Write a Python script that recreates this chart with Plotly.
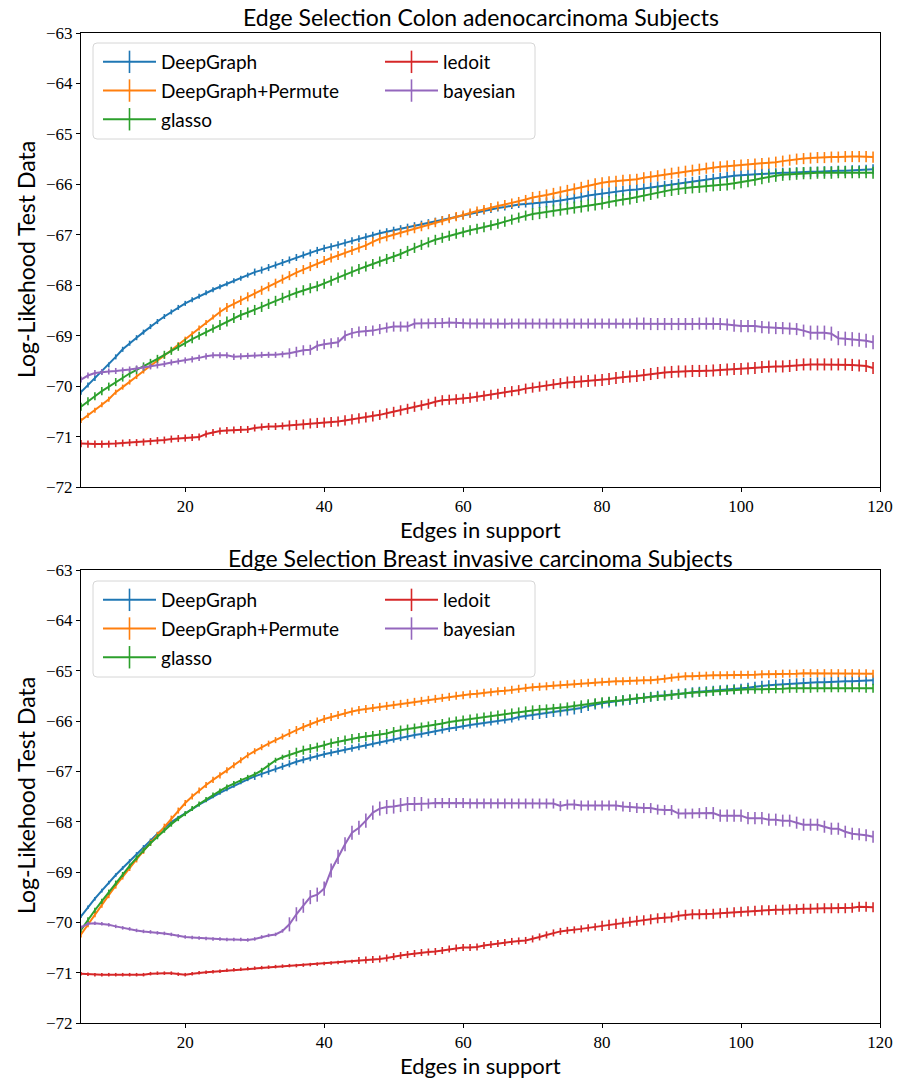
import plotly.graph_objects as go

# ---------------- data ----------------
edges = list(range(5, 120))

series_names = ["DeepGraph", "DeepGraph+Permute", "glasso", "ledoit", "bayesian"]
colors = ["#1f77b4", "#ff7f0e", "#2ca02c", "#d62728", "#9467bd"]
x_ticks = [20, 40, 60, 80, 100, 120]
y_ticks = [-72, -71, -70, -69, -68, -67, -66, -65, -64, -63]
titles = ["Edge Selection Colon adenocarcinoma Subjects",
          "Edge Selection Breast invasive carcinoma Subjects"]

colon_deepgraph = [
    -70.12, -69.98, -69.85, -69.72, -69.58, -69.42, -69.27, -69.15, -69.04, -68.93,
    -68.82, -68.72, -68.62, -68.53, -68.44, -68.36, -68.29, -68.22, -68.15, -68.09,
    -68.03, -67.97, -67.91, -67.86, -67.80, -67.74, -67.70, -67.65, -67.60, -67.55,
    -67.50, -67.45, -67.40, -67.36, -67.31, -67.27, -67.24, -67.20, -67.16, -67.12,
    -67.08, -67.04, -67.01, -66.97, -66.94, -66.91, -66.88, -66.85, -66.82, -66.79,
    -66.76, -66.73, -66.70, -66.67, -66.64, -66.62, -66.59, -66.56, -66.53, -66.50,
    -66.47, -66.45, -66.42, -66.40, -66.39, -66.38, -66.37, -66.36, -66.34, -66.32,
    -66.30, -66.28, -66.25, -66.22, -66.20, -66.18, -66.16, -66.14, -66.13, -66.11,
    -66.10, -66.08, -66.06, -66.04, -66.03, -66.01, -65.99, -65.97, -65.95, -65.93,
    -65.91, -65.89, -65.87, -65.85, -65.83, -65.82, -65.81, -65.80, -65.79, -65.78,
    -65.78, -65.77, -65.77, -65.76, -65.76, -65.75, -65.75, -65.74, -65.74, -65.73,
    -65.73, -65.72, -65.72, -65.71, -65.70]
colon_permute = [
    -70.68, -70.58, -70.48, -70.37, -70.26, -70.12, -70.02, -69.92, -69.81, -69.70,
    -69.60, -69.50, -69.40, -69.29, -69.18, -69.07, -68.96, -68.85, -68.74, -68.63,
    -68.53, -68.44, -68.37, -68.30, -68.23, -68.17, -68.10, -68.03, -67.96, -67.88,
    -67.81, -67.75, -67.69, -67.63, -67.57, -67.51, -67.46, -67.41, -67.36, -67.31,
    -67.26, -67.21, -67.14, -67.08, -67.04, -67.00, -66.96, -66.92, -66.88, -66.84,
    -66.80, -66.76, -66.72, -66.68, -66.64, -66.61, -66.57, -66.53, -66.50, -66.46,
    -66.43, -66.40, -66.37, -66.34, -66.30, -66.26, -66.24, -66.21, -66.18, -66.15,
    -66.12, -66.09, -66.06, -66.02, -65.99, -65.97, -65.95, -65.94, -65.92, -65.91,
    -65.90, -65.87, -65.85, -65.83, -65.80, -65.78, -65.76, -65.74, -65.72, -65.70,
    -65.68, -65.66, -65.65, -65.64, -65.63, -65.62, -65.61, -65.60, -65.59, -65.58,
    -65.56, -65.54, -65.52, -65.50, -65.49, -65.48, -65.47, -65.47, -65.46, -65.46,
    -65.45, -65.45, -65.45, -65.45, -65.46]
colon_glasso = [
    -70.41, -70.30, -70.20, -70.10, -70.01, -69.92, -69.83, -69.75, -69.68, -69.61,
    -69.54, -69.46, -69.38, -69.30, -69.22, -69.14, -69.07, -69.00, -68.93, -68.86,
    -68.79, -68.72, -68.65, -68.59, -68.54, -68.49, -68.43, -68.37, -68.31, -68.25,
    -68.20, -68.15, -68.10, -68.06, -68.02, -67.97, -67.91, -67.85, -67.79, -67.73,
    -67.68, -67.63, -67.58, -67.53, -67.48, -67.44, -67.38, -67.32, -67.26, -67.20,
    -67.15, -67.10, -67.06, -67.02, -66.98, -66.95, -66.91, -66.88, -66.85, -66.81,
    -66.78, -66.74, -66.70, -66.66, -66.62, -66.59, -66.57, -66.55, -66.52, -66.50,
    -66.48, -66.46, -66.44, -66.42, -66.40, -66.38, -66.35, -66.32, -66.30, -66.28,
    -66.25, -66.22, -66.19, -66.16, -66.13, -66.11, -66.09, -66.07, -66.06, -66.05,
    -66.04, -66.02, -66.01, -66.00, -65.98, -65.96, -65.94, -65.91, -65.88, -65.85,
    -65.83, -65.81, -65.80, -65.79, -65.78, -65.78, -65.77, -65.77, -65.77, -65.76,
    -65.76, -65.76, -65.76, -65.76, -65.77]
colon_ledoit = [
    -71.14, -71.15, -71.15, -71.15, -71.15, -71.14, -71.13, -71.12, -71.12, -71.11,
    -71.10, -71.08, -71.07, -71.05, -71.04, -71.03, -71.02, -71.01, -70.95, -70.92,
    -70.89, -70.88, -70.87, -70.86, -70.86, -70.83, -70.81, -70.80, -70.80, -70.79,
    -70.78, -70.77, -70.76, -70.74, -70.73, -70.72, -70.71, -70.70, -70.68, -70.66,
    -70.64, -70.62, -70.60, -70.57, -70.54, -70.51, -70.48, -70.45, -70.41, -70.38,
    -70.35, -70.31, -70.28, -70.27, -70.26, -70.25, -70.23, -70.21, -70.19, -70.17,
    -70.15, -70.12, -70.10, -70.08, -70.05, -70.03, -70.01, -69.99, -69.96, -69.94,
    -69.93, -69.92, -69.91, -69.90, -69.89, -69.88, -69.86, -69.84, -69.82, -69.81,
    -69.80, -69.78, -69.76, -69.74, -69.73, -69.72, -69.71, -69.71, -69.70, -69.70,
    -69.70, -69.69, -69.68, -69.67, -69.66, -69.66, -69.65, -69.64, -69.62, -69.61,
    -69.61, -69.61, -69.60, -69.58, -69.57, -69.57, -69.57, -69.57, -69.57, -69.57,
    -69.57, -69.58, -69.59, -69.60, -69.64]
colon_bayesian = [
    -69.87, -69.79, -69.74, -69.72, -69.71, -69.70, -69.69, -69.67, -69.65, -69.63,
    -69.61, -69.59, -69.56, -69.53, -69.51, -69.49, -69.47, -69.44, -69.41, -69.39,
    -69.39, -69.39, -69.42, -69.41, -69.40, -69.39, -69.38, -69.38, -69.38, -69.37,
    -69.35, -69.32, -69.29, -69.28, -69.20, -69.17, -69.15, -69.13, -69.00, -68.95,
    -68.92, -68.91, -68.90, -68.87, -68.84, -68.82, -68.82, -68.82, -68.76, -68.76,
    -68.76, -68.75, -68.75, -68.74, -68.75, -68.76, -68.76, -68.76, -68.76, -68.76,
    -68.76, -68.76, -68.76, -68.76, -68.76, -68.76, -68.76, -68.76, -68.76, -68.76,
    -68.76, -68.76, -68.76, -68.76, -68.76, -68.76, -68.76, -68.76, -68.76, -68.76,
    -68.76, -68.76, -68.77, -68.77, -68.77, -68.77, -68.77, -68.77, -68.77, -68.76,
    -68.76, -68.76, -68.77, -68.78, -68.80, -68.81, -68.81, -68.81, -68.83, -68.84,
    -68.85, -68.85, -68.86, -68.87, -68.90, -68.94, -68.94, -68.94, -68.96, -69.05,
    -69.06, -69.07, -69.08, -69.10, -69.13]

breast_deepgraph = [
    -69.88, -69.70, -69.53, -69.37, -69.21, -69.06, -68.92, -68.78, -68.64, -68.50,
    -68.37, -68.24, -68.12, -68.01, -67.92, -67.84, -67.75, -67.66, -67.58, -67.50,
    -67.43, -67.36, -67.29, -67.22, -67.16, -67.10, -67.05, -67.00, -66.95, -66.90,
    -66.85, -66.81, -66.77, -66.73, -66.70, -66.66, -66.63, -66.60, -66.57, -66.54,
    -66.51, -66.48, -66.45, -66.42, -66.39, -66.36, -66.33, -66.31, -66.28, -66.26,
    -66.23, -66.21, -66.18, -66.15, -66.13, -66.10, -66.08, -66.06, -66.04, -66.02,
    -66.00, -65.98, -65.96, -65.92, -65.90, -65.88, -65.86, -65.84, -65.82, -65.81,
    -65.79, -65.77, -65.74, -65.70, -65.67, -65.65, -65.63, -65.61, -65.59, -65.58,
    -65.56, -65.54, -65.52, -65.50, -65.49, -65.48, -65.46, -65.45, -65.43, -65.42,
    -65.41, -65.40, -65.39, -65.38, -65.37, -65.36, -65.34, -65.32, -65.30, -65.29,
    -65.28, -65.27, -65.26, -65.25, -65.24, -65.24, -65.23, -65.23, -65.22, -65.22,
    -65.21, -65.21, -65.20, -65.20, -65.19]
breast_permute = [
    -70.24, -70.04, -69.84, -69.65, -69.46, -69.27, -69.09, -68.92, -68.75, -68.58,
    -68.42, -68.26, -68.10, -67.94, -67.78, -67.63, -67.50, -67.38, -67.27, -67.17,
    -67.08, -66.98, -66.88, -66.78, -66.68, -66.60, -66.52, -66.45, -66.38, -66.31,
    -66.24, -66.18, -66.12, -66.06, -66.01, -65.96, -65.92, -65.88, -65.84, -65.81,
    -65.78, -65.76, -65.74, -65.72, -65.70, -65.68, -65.66, -65.64, -65.62, -65.60,
    -65.58, -65.56, -65.54, -65.52, -65.50, -65.49, -65.47, -65.46, -65.44, -65.43,
    -65.41, -65.40, -65.38, -65.36, -65.34, -65.33, -65.32, -65.31, -65.29, -65.28,
    -65.27, -65.26, -65.25, -65.24, -65.23, -65.22, -65.22, -65.21, -65.21, -65.20,
    -65.20, -65.19, -65.19, -65.18, -65.16, -65.14, -65.12, -65.11, -65.11, -65.10,
    -65.10, -65.09, -65.09, -65.09, -65.08, -65.08, -65.08, -65.08, -65.07, -65.07,
    -65.07, -65.06, -65.06, -65.06, -65.05, -65.05, -65.05, -65.05, -65.05, -65.05,
    -65.05, -65.05, -65.05, -65.05, -65.06]
breast_glasso = [
    -70.15, -69.95, -69.76, -69.58, -69.40, -69.22, -69.05, -68.88, -68.72, -68.57,
    -68.43, -68.30, -68.17, -68.05, -67.94, -67.84, -67.74, -67.65, -67.56, -67.47,
    -67.39, -67.31, -67.24, -67.18, -67.12, -67.06, -66.98, -66.88, -66.78, -66.72,
    -66.67, -66.62, -66.58, -66.55, -66.52, -66.48, -66.44, -66.41, -66.38, -66.35,
    -66.33, -66.31, -66.29, -66.27, -66.25, -66.21, -66.18, -66.16, -66.14, -66.12,
    -66.10, -66.07, -66.05, -66.02, -66.00, -65.98, -65.96, -65.94, -65.92, -65.90,
    -65.88, -65.86, -65.84, -65.82, -65.80, -65.78, -65.77, -65.76, -65.75, -65.74,
    -65.72, -65.70, -65.68, -65.66, -65.64, -65.62, -65.61, -65.60, -65.58, -65.56,
    -65.55, -65.54, -65.52, -65.51, -65.50, -65.48, -65.47, -65.45, -65.44, -65.43,
    -65.42, -65.41, -65.40, -65.39, -65.38, -65.38, -65.37, -65.37, -65.37, -65.36,
    -65.36, -65.36, -65.35, -65.35, -65.35, -65.35, -65.34, -65.34, -65.34, -65.34,
    -65.34, -65.34, -65.34, -65.35, -65.35]
breast_ledoit = [
    -71.02, -71.03, -71.04, -71.04, -71.04, -71.04, -71.04, -71.04, -71.04, -71.04,
    -71.02, -71.01, -71.01, -71.01, -71.03, -71.04, -71.02, -71.00, -70.99, -70.98,
    -70.97, -70.95, -70.94, -70.93, -70.92, -70.91, -70.90, -70.89, -70.88, -70.87,
    -70.86, -70.86, -70.85, -70.84, -70.83, -70.82, -70.81, -70.80, -70.79, -70.78,
    -70.76, -70.75, -70.74, -70.73, -70.71, -70.68, -70.66, -70.64, -70.62, -70.60,
    -70.59, -70.58, -70.56, -70.53, -70.51, -70.50, -70.50, -70.49, -70.46, -70.44,
    -70.42, -70.40, -70.38, -70.37, -70.36, -70.33, -70.29, -70.25, -70.21, -70.18,
    -70.16, -70.15, -70.13, -70.11, -70.09, -70.07, -70.05, -70.03, -70.01, -69.99,
    -69.97, -69.96, -69.94, -69.92, -69.91, -69.90, -69.87, -69.85, -69.84, -69.84,
    -69.84, -69.83, -69.82, -69.81, -69.80, -69.79, -69.78, -69.77, -69.76, -69.76,
    -69.75, -69.75, -69.74, -69.74, -69.73, -69.73, -69.72, -69.72, -69.72, -69.72,
    -69.72, -69.71, -69.69, -69.69, -69.70]
breast_bayesian = [
    -70.10, -70.03, -70.02, -70.03, -70.05, -70.08, -70.11, -70.13, -70.16, -70.18,
    -70.19, -70.21, -70.22, -70.24, -70.27, -70.29, -70.30, -70.31, -70.32, -70.33,
    -70.33, -70.34, -70.34, -70.34, -70.35, -70.33, -70.29, -70.26, -70.24, -70.17,
    -70.04, -69.84, -69.67, -69.50, -69.45, -69.33, -68.97, -68.70, -68.45, -68.22,
    -68.12, -67.98, -67.82, -67.74, -67.71, -67.70, -67.67, -67.65, -67.65, -67.65,
    -67.64, -67.63, -67.63, -67.63, -67.63, -67.63, -67.64, -67.64, -67.64, -67.64,
    -67.64, -67.64, -67.64, -67.64, -67.64, -67.64, -67.64, -67.64, -67.64, -67.69,
    -67.66, -67.66, -67.68, -67.68, -67.68, -67.68, -67.68, -67.68, -67.70, -67.71,
    -67.73, -67.73, -67.73, -67.76, -67.77, -67.77, -67.84, -67.84, -67.84, -67.83,
    -67.83, -67.83, -67.88, -67.88, -67.88, -67.88, -67.93, -67.93, -67.93, -67.96,
    -67.96, -67.98, -67.98, -68.02, -68.06, -68.06, -68.06, -68.10, -68.14, -68.14,
    -68.20, -68.24, -68.25, -68.27, -68.30]

# error bar half-lengths (read piecewise from the picture)
colon_err = [
    [0.05] * 25 + [0.07] * 40 + [0.10] * 50,
    [0.05] * 20 + [0.09] * 45 + [0.11] * 50,
    [0.08] * 20 + [0.10] * 45 + [0.12] * 50,
    [0.07] * 30 + [0.10] * 40 + [0.12] * 45,
    [0.06] * 30 + [0.10] * 50 + [0.12] * 25 + [0.14] * 10,
]
breast_err = [
    [0.035] * 25 + [0.07] * 40 + [0.10] * 50,
    [0.06] * 30 + [0.08] * 85,
    [0.05] * 30 + [0.09] * 85,
    [0.035] * 40 + [0.07] * 35 + [0.10] * 40,
    [0.035] * 30 + [0.14] * 20 + [0.10] * 40 + [0.12] * 25,
]

colon = [colon_deepgraph, colon_permute, colon_glasso, colon_ledoit, colon_bayesian]
breast = [breast_deepgraph, breast_permute, breast_glasso, breast_ledoit, breast_bayesian]

# ---------------- layout helpers (pixel -> paper) ----------------
W, H = 898, 1082
L, R, T, B = 81, 18, 33, 59
PW, PH = W - L - R, H - T - B


def px(p):
    return (p - L) / PW


def py(p):
    return (H - B - p) / PH


SANS = "Lato, 'Open Sans', sans-serif"
SERIF = "'Liberation Serif', 'DejaVu Serif', serif"

fig = go.Figure()

panels = [(colon, colon_err, "x", "y", ("legend", "legend2"), "c"),
          (breast, breast_err, "x2", "y2", ("legend3", "legend4"), "b")]

for data, errs, xa, ya, legs, tag in panels:
    for i, name in enumerate(series_names):
        fig.add_trace(go.Scatter(
            x=edges, y=data[i], mode="lines", name=name,
            line=dict(color=colors[i], width=2),
            error_y=dict(type="data", array=errs[i], visible=True,
                         color=colors[i], thickness=1.6, width=0),
            xaxis=xa, yaxis=ya, showlegend=False))
    # legend entries (line with a vertical error-bar tick)
    for i, name in enumerate(series_names):
        fig.add_trace(go.Scatter(
            x=[None], y=[None], mode="lines+markers", name=name,
            line=dict(color=colors[i], width=2),
            marker=dict(symbol="line-ns", size=22,
                        line=dict(color=colors[i], width=1.6)),
            xaxis=xa, yaxis=ya, showlegend=True,
            legendgroup=f"{tag}{i}",
            legend=legs[0] if i < 3 else legs[1]))

axis_common = dict(
    showgrid=False, zeroline=False, showline=True, linecolor="black",
    linewidth=1, mirror=True, ticks="outside", ticklen=4, tickwidth=1,
    tickcolor="black", automargin=False,
    tickfont=dict(family=SERIF, size=17, color="black"))

top_dom = [py(487), py(33)]
bot_dom = [py(1023), py(570)]

fig.update_layout(
    template="none",
    width=W, height=H,
    margin=dict(l=L, r=R, t=T, b=B, autoexpand=False),
    plot_bgcolor="white", paper_bgcolor="white",
    xaxis=dict(domain=[0, 1], anchor="y", range=[5, 120], tickvals=x_ticks, **axis_common),
    yaxis=dict(domain=top_dom, anchor="x", range=[-72, -63], tickvals=y_ticks, **axis_common),
    xaxis2=dict(domain=[0, 1], anchor="y2", range=[5, 120], tickvals=x_ticks, **axis_common),
    yaxis2=dict(domain=bot_dom, anchor="x2", range=[-72, -63], tickvals=y_ticks, **axis_common),
)

legend_style = dict(bgcolor="rgba(0,0,0,0)", borderwidth=0,
                    font=dict(family=SANS, size=19, color="black"),
                    xanchor="left", yanchor="top", itemwidth=53,
                    traceorder="grouped", tracegroupgap=1)
fig.update_layout(
    legend=dict(x=px(98), y=py(43), **legend_style),
    legend2=dict(x=px(380), y=py(43), **legend_style),
    legend3=dict(x=px(98), y=py(581), **legend_style),
    legend4=dict(x=px(380), y=py(581), **legend_style),
)


# legend frames (rounded rectangles)
def rounded_rect(x0, y0, x1, y1, r=4):
    X = lambda p: px(p)
    Y = lambda p: py(p)
    return (f"M {X(x0 + r)},{Y(y0)} L {X(x1 - r)},{Y(y0)} Q {X(x1)},{Y(y0)} {X(x1)},{Y(y0 + r)} "
            f"L {X(x1)},{Y(y1 - r)} Q {X(x1)},{Y(y1)} {X(x1 - r)},{Y(y1)} "
            f"L {X(x0 + r)},{Y(y1)} Q {X(x0)},{Y(y1)} {X(x0)},{Y(y1 - r)} "
            f"L {X(x0)},{Y(y0 + r)} Q {X(x0)},{Y(y0)} {X(x0 + r)},{Y(y0)} Z")


for (y0, y1) in [(43, 139), (581, 677)]:
    fig.add_shape(type="path", xref="paper", yref="paper",
                  path=rounded_rect(93, y0, 535, y1),
                  fillcolor="rgba(255,255,255,0.8)",
                  line=dict(color="#d6d6d6", width=1), layer="above")

# titles and axis labels
title_font = dict(family=SANS, size=23, color="black")
label_font = dict(family=SANS, size=22, color="black")
for title, ty, xlab_y, ycenter in [(titles[0], 17, 529, 260), (titles[1], 558, 1065, 796)]:
    fig.add_annotation(text=title, x=0.5, y=py(ty), xref="paper", yref="paper",
                       showarrow=False, font=title_font, xanchor="center", yanchor="middle",
                       borderpad=0)
    fig.add_annotation(text="Edges in support", x=0.5, y=py(xlab_y), xref="paper", yref="paper",
                       showarrow=False, font=label_font, xanchor="center", yanchor="middle",
                       borderpad=0)
    fig.add_annotation(text="Log-Likehood Test Data", x=px(26), y=py(ycenter),
                       xref="paper", yref="paper", textangle=-90,
                       showarrow=False, font=title_font, xanchor="center", yanchor="middle")

fig.write_html(
    "out.html",
    config={"displayModeBar": False},
    post_script="document.body.style.margin='0';document.body.style.overflow='hidden';")
